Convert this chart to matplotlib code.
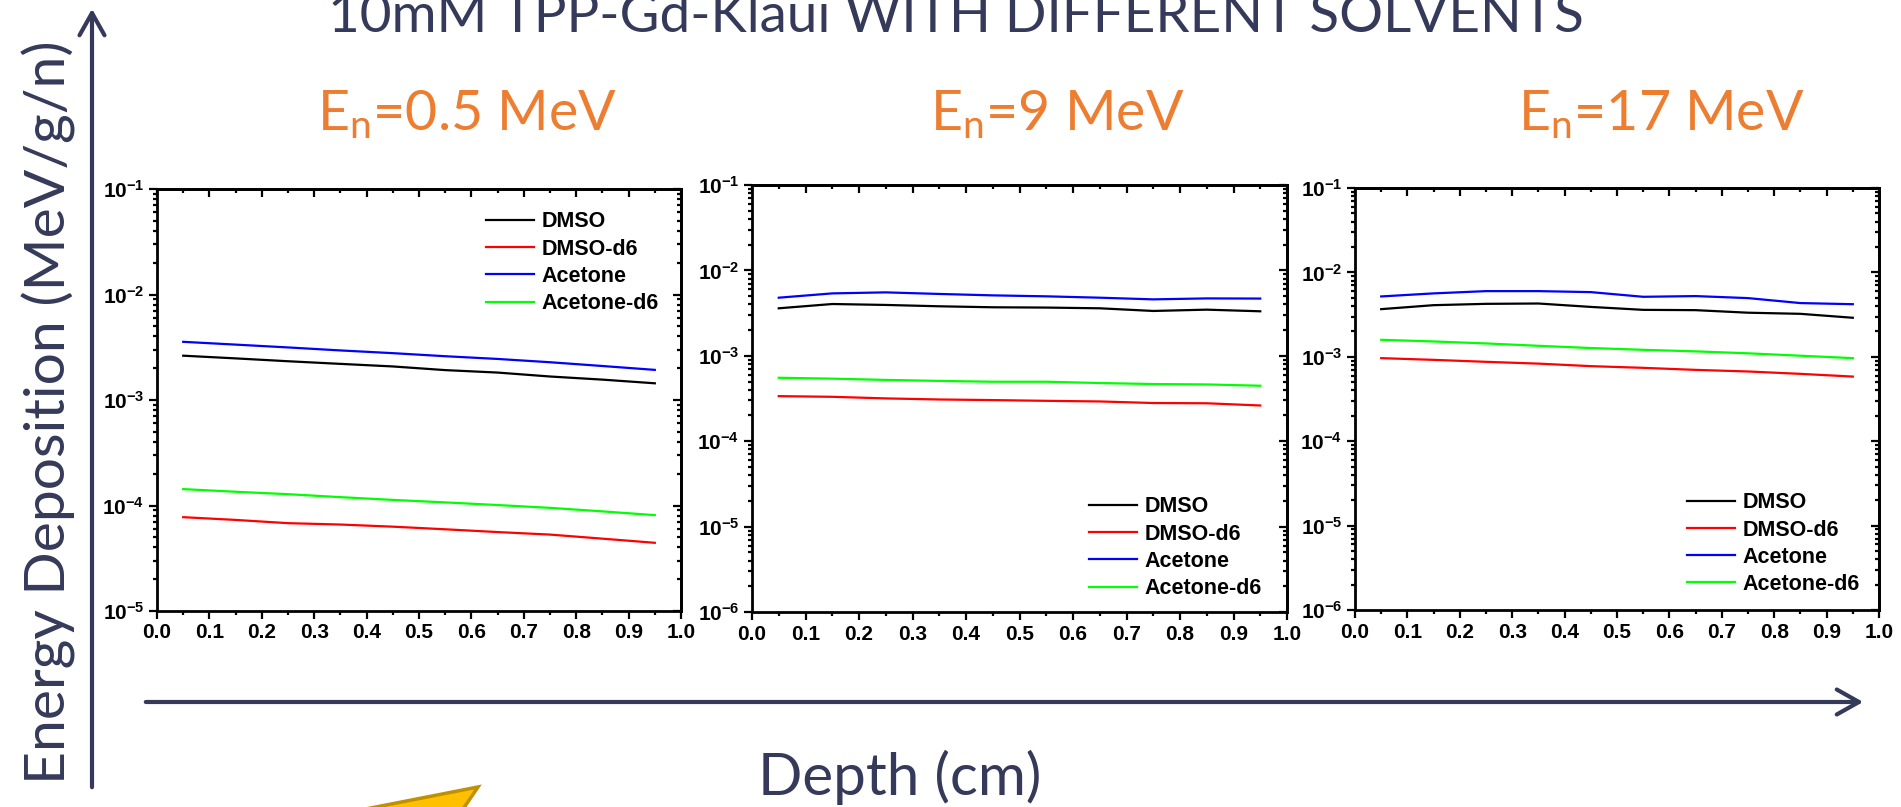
# Energy deposition vs depth for 10mM TPP-Gd-Klaui in different solvents

import numpy as np
import matplotlib
matplotlib.use('Agg')
import matplotlib.pyplot as plt
from matplotlib.patches import FancyArrowPatch, Polygon
from matplotlib.ticker import MultipleLocator, LogLocator, FuncFormatter, NullFormatter

plt.rcParams['font.family'] = ['Liberation Sans', 'DejaVu Sans']
plt.rcParams['mathtext.fontset'] = 'custom'
plt.rcParams['mathtext.rm'] = 'Liberation Sans'
plt.rcParams['mathtext.bf'] = 'Liberation Sans:bold'
plt.rcParams['mathtext.it'] = 'Liberation Sans:italic'

# depth bins (cm)
depth = [0.05, 0.15, 0.25, 0.35, 0.45, 0.55, 0.65, 0.75, 0.85, 0.95]
solvents = ['DMSO', 'DMSO-d6', 'Acetone', 'Acetone-d6']
colors = ['black', '#FF0000', '#0000FF', '#00FF00']

# En = 0.5 MeV
e05_dmso = [2.63e-3, 2.48e-3, 2.33e-3, 2.20e-3, 2.08e-3, 1.92e-3, 1.82e-3, 1.67e-3, 1.56e-3, 1.44e-3]
e05_dmso_d6 = [7.75e-5, 7.3e-5, 6.8e-5, 6.6e-5, 6.3e-5, 5.95e-5, 5.6e-5, 5.3e-5, 4.85e-5, 4.43e-5]
e05_acetone = [3.56e-3, 3.35e-3, 3.15e-3, 2.95e-3, 2.78e-3, 2.60e-3, 2.45e-3, 2.28e-3, 2.10e-3, 1.93e-3]
e05_acetone_d6 = [1.43e-4, 1.35e-4, 1.28e-4, 1.20e-4, 1.13e-4, 1.07e-4, 1.01e-4, 0.95e-4, 0.88e-4, 0.81e-4]

# En = 9 MeV
e9_dmso = [3.60e-3, 4.04e-3, 3.94e-3, 3.80e-3, 3.70e-3, 3.67e-3, 3.60e-3, 3.35e-3, 3.47e-3, 3.32e-3]
e9_dmso_d6 = [3.37e-4, 3.31e-4, 3.17e-4, 3.08e-4, 3.03e-4, 2.97e-4, 2.92e-4, 2.80e-4, 2.78e-4, 2.62e-4]
e9_acetone = [4.79e-3, 5.38e-3, 5.53e-3, 5.30e-3, 5.10e-3, 4.97e-3, 4.79e-3, 4.58e-3, 4.70e-3, 4.68e-3]
e9_acetone_d6 = [5.53e-4, 5.40e-4, 5.22e-4, 5.08e-4, 4.97e-4, 4.97e-4, 4.80e-4, 4.67e-4, 4.62e-4, 4.46e-4]

# En = 17 MeV
e17_dmso = [3.67e-3, 4.09e-3, 4.24e-3, 4.28e-3, 3.90e-3, 3.60e-3, 3.57e-3, 3.33e-3, 3.23e-3, 2.90e-3]
e17_dmso_d6 = [9.64e-4, 9.2e-4, 8.72e-4, 8.3e-4, 7.75e-4, 7.4e-4, 7.0e-4, 6.7e-4, 6.28e-4, 5.83e-4]
e17_acetone = [5.19e-3, 5.64e-3, 6.00e-3, 6.00e-3, 5.84e-3, 5.14e-3, 5.24e-3, 4.96e-3, 4.33e-3, 4.20e-3]
e17_acetone_d6 = [1.59e-3, 1.52e-3, 1.44e-3, 1.35e-3, 1.27e-3, 1.21e-3, 1.16e-3, 1.10e-3, 1.03e-3, 0.964e-3]

panel_titles = [r'E$_\mathregular{n}$=0.5 MeV', r'E$_\mathregular{n}$=9 MeV', r'E$_\mathregular{n}$=17 MeV']
panel_data = [
    [e05_dmso, e05_dmso_d6, e05_acetone, e05_acetone_d6],
    [e9_dmso, e9_dmso_d6, e9_acetone, e9_acetone_d6],
    [e17_dmso, e17_dmso_d6, e17_acetone, e17_acetone_d6],
]
y_min = [1e-5, 1e-6, 1e-6]

W, H = 1901, 807
navy = '#353A5A'
orange = '#ED7D31'

fig = plt.figure(figsize=(W / 100, H / 100), dpi=100)


def fx(px):
    return px / W


def fy(py):
    return 1 - py / H


# axes boxes in pixels: left, top, right, bottom
boxes = [(157, 189, 681, 611), (752, 185, 1287, 612), (1355, 188, 1879, 610)]
legend_anchor = [(0.628, 0.947), (0.630, 0.2705), (0.634, 0.279)]
title_x = [467, 1057, 1661]

sci = FuncFormatter(lambda v, p: r'$\mathbf{10^{%d}}$' % int(round(np.log10(v))))
dec = FuncFormatter(lambda v, p: '%.1f' % v)

for i in range(3):
    l, t, r, b = boxes[i]
    ax = fig.add_axes([fx(l), fy(b), fx(r) - fx(l), fy(t) - fy(b)])
    for vals, name, c in zip(panel_data[i], solvents, colors):
        ax.plot(depth, vals, color=c, lw=1.6, label=name)
    ax.set_yscale('log')
    ax.set_xlim(0, 1)
    ax.set_ylim(y_min[i], 1e-1)
    ax.xaxis.set_major_locator(MultipleLocator(0.1))
    ax.xaxis.set_minor_locator(MultipleLocator(0.05))
    ax.xaxis.set_major_formatter(dec)
    ax.yaxis.set_major_locator(LogLocator(10, numticks=12))
    ax.yaxis.set_minor_locator(LogLocator(10, subs=np.arange(2, 10), numticks=12))
    ax.yaxis.set_major_formatter(sci)
    ax.yaxis.set_minor_formatter(NullFormatter())
    ax.tick_params(which='both', direction='out', width=1.6, labelsize=15)
    ax.tick_params(which='major', length=5.5)
    ax.tick_params(which='minor', length=3)
    for lab in ax.get_xticklabels():
        lab.set_fontweight('bold')
    for s in ax.spines.values():
        s.set_linewidth(2)

    # mirrored ticks pointing inwards on top and right
    top = ax.secondary_xaxis('top')
    top.xaxis.set_major_locator(MultipleLocator(0.1))
    top.xaxis.set_minor_locator(MultipleLocator(0.05))
    top.tick_params(which='both', direction='in', width=1.6, labeltop=False)
    top.tick_params(which='major', length=5.5)
    top.tick_params(which='minor', length=3)
    top.spines['top'].set_linewidth(2)
    right = ax.secondary_yaxis('right')
    right.yaxis.set_major_locator(LogLocator(10, numticks=12))
    right.yaxis.set_minor_locator(LogLocator(10, subs=np.arange(2, 10), numticks=12))
    right.tick_params(which='both', direction='in', width=1.6, labelright=False)
    right.tick_params(which='major', length=5.5)
    right.tick_params(which='minor', length=3)
    right.spines['right'].set_linewidth(2)

    ax.legend(loc='upper left', bbox_to_anchor=legend_anchor[i], frameon=False,
              prop={'weight': 'bold', 'size': 15.5}, handlelength=2.23,
              handletextpad=0.33, labelspacing=0.29, borderpad=0, borderaxespad=0)

    fig.text(fx(title_x[i]), fy(130), panel_titles[i], family='Lato', fontsize=40,
             color=orange, ha='center', va='baseline')

# overall title (cut at the top edge in the original slide)
fig.text(fx(956), fy(32), '10mM TPP-Gd-Klaui WITH DIFFERENT SOLVENTS', family='Lato',
         fontsize=39.4, color=navy, ha='center', va='baseline')

# axis names
fig.text(fx(66), fy(412), 'Energy Deposition (MeV/g/n)', family='Lato', fontsize=41,
         color=navy, rotation=90, rotation_mode='anchor', ha='center', va='baseline')
fig.text(fx(900), fy(795), 'Depth (cm)', family='Lato', fontsize=42, color=navy,
         ha='center', va='baseline')

# slide arrows
arrow_kw = dict(transform=fig.transFigure, arrowstyle='->,head_length=0.8,head_width=0.45',
                mutation_scale=20, color=navy, lw=3)
fig.add_artist(FancyArrowPatch((fx(92), fy(790)), (fx(92), fy(6)), **arrow_kw))
fig.add_artist(FancyArrowPatch((fx(143), fy(702)), (fx(1866), fy(702)), **arrow_kw))

# corner of the yellow block arrow at the bottom of the slide
fig.add_artist(Polygon([(fx(335), fy(815)), (fx(478), fy(787)), (fx(459), fy(815))],
                       closed=True, transform=fig.transFigure, facecolor='#FFC000',
                       edgecolor='#BF9000', lw=2.5))

fig.savefig('out.png', dpi=100)
